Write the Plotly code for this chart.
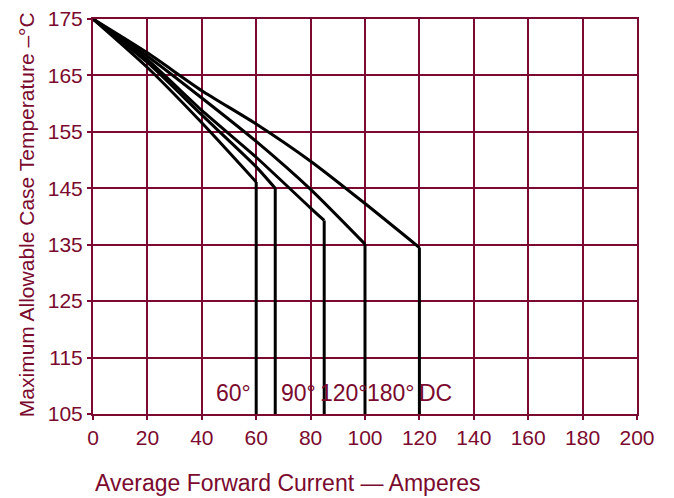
import plotly.graph_objects as go

# ---- data ----
x_ticks = [0, 20, 40, 60, 80, 100, 120, 140, 160, 180, 200]
y_ticks = [105, 115, 125, 135, 145, 155, 165, 175]

series_names = ["60°", "90°", "120°", "180°", "DC"]
x_60 = [0, 20, 40, 60]
y_60 = [175, 166.4, 156.6, 146.1]
x_90 = [0, 20, 40, 60, 67]
y_90 = [175, 167.3, 158.0, 148.8, 145]
x_120 = [0, 20, 40, 60, 80, 85]
y_120 = [175, 167.8, 158.8, 150.5, 141.5, 139.3]
x_180 = [0, 20, 40, 60, 80, 100]
y_180 = [175, 168.4, 161.0, 153.3, 144.8, 135.1]
x_dc = [0, 20, 40, 60, 80, 100, 120]
y_dc = [175, 169.0, 162.3, 156.4, 149.8, 142.3, 134.5]

label_x = [51.5, 75.5, 92.3, 109.5, 126]
label_y = [108.8, 108.8, 108.8, 108.8, 108.8]

Y_MIN, Y_MAX = 105, 175
MAROON = "#7a0a2e"
FONT = "Liberation Sans Narrow, Liberation Sans, Arial, sans-serif"

fig = go.Figure()
for xs, ys in [(x_60, y_60), (x_90, y_90), (x_120, y_120), (x_180, y_180), (x_dc, y_dc)]:
    # derating curve
    fig.add_trace(go.Scatter(
        x=xs, y=ys, mode="lines",
        line=dict(color="black", width=3, shape="spline", smoothing=0.6),
        showlegend=False, hoverinfo="skip"))
    # vertical drop to the bottom of the axis at the max current
    fig.add_trace(go.Scatter(
        x=[xs[-1], xs[-1]], y=[ys[-1], Y_MIN], mode="lines",
        line=dict(color="black", width=3), showlegend=False, hoverinfo="skip"))

for name, lx, ly in zip(series_names, label_x, label_y):
    fig.add_annotation(x=lx, y=ly, text=name, showarrow=False,
                       font=dict(family=FONT, size=23, color=MAROON),
                       xanchor="center", yanchor="middle")

fig.add_annotation(xref="paper", yref="paper", x=0, y=-0.174,
                   text="Average Forward Current — Amperes", showarrow=False,
                   xanchor="left", yanchor="middle",
                   font=dict(family=FONT, size=23, color=MAROON))
fig.add_annotation(xref="paper", yref="paper", x=-0.122, y=0.505,
                   text="Maximum Allowable Case Temperature –°C", showarrow=False,
                   textangle=-90, xanchor="center", yanchor="middle",
                   font=dict(family=FONT, size=21, color=MAROON))

axis_common = dict(showgrid=True, gridcolor=MAROON, gridwidth=2,
                   showline=True, linecolor=MAROON, linewidth=2, mirror=True,
                   zeroline=False, automargin=False, ticklabeloverflow="allow",
                   tickfont=dict(family=FONT, size=21, color=MAROON),
                   ticks="outside", tickcolor=MAROON, ticklen=4, tickwidth=2)

fig.update_xaxes(range=[0, 200], tickvals=x_ticks, ticktext=[str(v) for v in x_ticks],
                 **axis_common)
fig.update_yaxes(range=[Y_MIN, Y_MAX], tickvals=y_ticks, ticktext=[str(v) for v in y_ticks],
                 **axis_common)

fig.update_layout(width=666, height=490,
                  margin=dict(l=85, r=37, t=11, b=84, autoexpand=False),
                  paper_bgcolor="white", plot_bgcolor="white",
                  font=dict(family=FONT, color=MAROON))

fig.write_html("out.html")
